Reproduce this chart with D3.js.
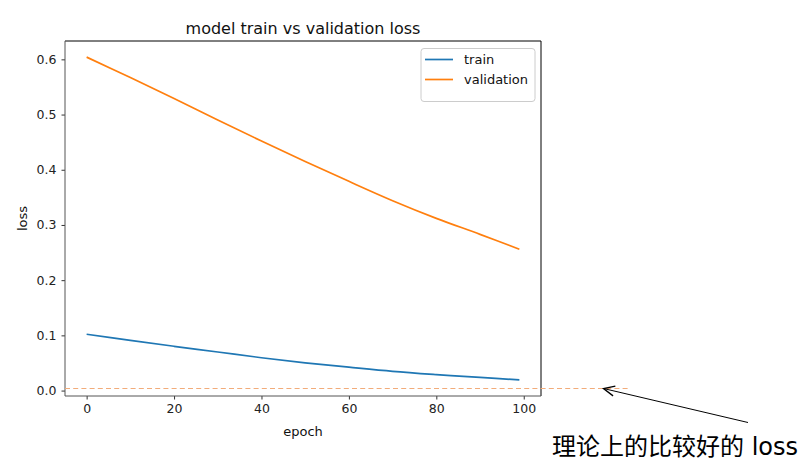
<!DOCTYPE html>
<html><head><meta charset="utf-8">
<script src="https://cdn.jsdelivr.net/npm/d3@7"></script>
<style>body{margin:0;background:#fff}svg{display:block}text{font-family:"DejaVu Sans","Noto Sans CJK SC",sans-serif}</style>
</head><body><svg id="c" width="808" height="460"></svg>
<script>
const epochs = [0,10,20,30,40,50,60,70,80,90,99];
const trainLoss = [0.102,0.0908,0.0802,0.0699,0.0595,0.0503,0.0424,0.0349,0.0290,0.0238,0.0194];
const valLoss = [0.604,0.567,0.529,0.490,0.452,0.415,0.379,0.344,0.312,0.283,0.256];
const xTicks = [0,20,40,60,80,100];
const yTicks = [0.0,0.1,0.2,0.3,0.4,0.5,0.6];
const goodLoss = 0.0054;
const titleText = "model train vs validation loss";
const noteText = "理论上的比较好的 loss";

const svg = d3.select("#c");
const L=65,R=541,T=41,B=396;
const xMin=d3.min(epochs),xMax=d3.max(epochs),xm=(xMax-xMin)*0.05;
const allY=trainLoss.concat(valLoss);
const yMin=d3.min(allY),yMax=d3.max(allY),ym=(yMax-yMin)*0.05;
const x=d3.scaleLinear().domain([xMin-xm,xMax+xm]).range([L,R]);
const y=d3.scaleLinear().domain([yMin-ym,yMax+ym]).range([B,T]);

// axes
const xa=svg.append("g").attr("transform",`translate(0,${B})`).call(d3.axisBottom(x).tickValues(xTicks).tickSize(3.5).tickPadding(5).tickFormat(d3.format("d")));
const ya=svg.append("g").attr("transform",`translate(${L},0)`).call(d3.axisLeft(y).tickValues(yTicks).tickSize(3.5).tickPadding(5).tickFormat(d3.format(".1f")));
[xa,ya].forEach(a=>{a.select(".domain").remove();a.selectAll("line").attr("stroke","#333");a.selectAll("text").attr("font-size",12.5).attr("fill","#222").attr("font-family","DejaVu Sans");});

const line=d3.line().x((d,i)=>x(epochs[i])).y(d=>y(d)).curve(d3.curveCatmullRom.alpha(0.5));
svg.append("path").datum(trainLoss).attr("d",line).attr("fill","none").attr("stroke","#1f77b4").attr("stroke-width",1.7);
svg.append("path").datum(valLoss).attr("d",line).attr("fill","none").attr("stroke","#ff7f0e").attr("stroke-width",1.7);

// spines
svg.append("line").attr("x1",L).attr("x2",R).attr("y1",T).attr("y2",T).attr("stroke","#000");
svg.append("line").attr("x1",R).attr("x2",R).attr("y1",T).attr("y2",B).attr("stroke","#000");
svg.append("line").attr("x1",L).attr("x2",L).attr("y1",T).attr("y2",B).attr("stroke","#555");
svg.append("line").attr("x1",L).attr("x2",R).attr("y1",B).attr("y2",B).attr("stroke","#555");

// dashed reference line
const gy=Math.round(y(goodLoss))+0.5;
svg.append("line").attr("x1",L).attr("x2",628).attr("y1",gy).attr("y2",gy)
  .attr("stroke","#f2ac7a").attr("stroke-width",1.1).attr("stroke-dasharray","5,3.2");

// title & labels
svg.append("text").attr("x",(L+R)/2).attr("y",34).attr("text-anchor","middle").attr("font-size",16).attr("fill","#111").text(titleText);
svg.append("text").attr("x",(L+R)/2).attr("y",436).attr("text-anchor","middle").attr("font-size",13).attr("fill","#111").text("epoch");
svg.append("text").attr("transform",`translate(27,${(T+B)/2}) rotate(-90)`).attr("text-anchor","middle").attr("font-size",13).attr("fill","#111").text("loss");

// legend
const lg=svg.append("g");
lg.append("rect").attr("x",421).attr("y",48.5).attr("width",114).attr("height",53).attr("rx",3).attr("fill","#fff").attr("fill-opacity",0.8).attr("stroke","#ccc");
[["train","#1f77b4",59.5],["validation","#ff7f0e",79.5]].forEach(([t,c,yy])=>{
  lg.append("line").attr("x1",425).attr("x2",453).attr("y1",yy).attr("y2",yy).attr("stroke",c).attr("stroke-width",1.7);
  lg.append("text").attr("x",464).attr("y",yy+4.6).attr("font-size",13).attr("fill","#111").text(t);
});

// annotation
const tip=[603.5,gy], tail=[748,422.5];
svg.append("line").attr("x1",tail[0]).attr("y1",tail[1]).attr("x2",tip[0]).attr("y2",tip[1]).attr("stroke","#000").attr("stroke-width",1);
const ang=Math.atan2(tail[1]-tip[1],tail[0]-tip[0]);
const hl=11, hw=5;
const bx=tip[0]+hl*Math.cos(ang), by=tip[1]+hl*Math.sin(ang);
const px=-Math.sin(ang)*hw, py=Math.cos(ang)*hw;
svg.append("path").attr("d",`M${bx+px},${by+py}L${tip[0]},${tip[1]}L${bx-px},${by-py}`).attr("fill","none").attr("stroke","#000").attr("stroke-width",1.3);
svg.append("text").attr("x",552).attr("y",455).attr("font-size",24).attr("fill","#000").text(noteText);
</script></body></html>
